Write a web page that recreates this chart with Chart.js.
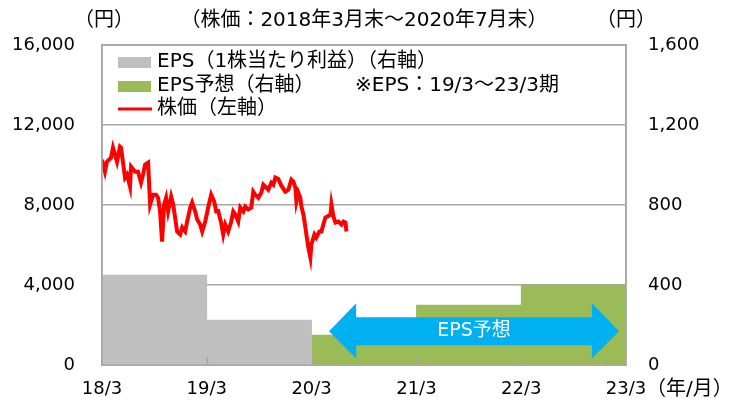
<!DOCTYPE html>
<html lang="ja">
<head>
<meta charset="utf-8">
<title>株価とEPS</title>
<script src="https://cdn.jsdelivr.net/npm/chart.js@4.4.1/dist/chart.umd.min.js"></script>
<style>
  html, body { margin: 0; padding: 0; background: #fff; }
</style>
</head>
<body>
<canvas id="chart" width="729" height="403"></canvas>
<script>
  // x axis is in months counted from 2018/3
  const xTickLabels = ['18/3', '19/3', '20/3', '21/3', '22/3', '23/3'];

  // EPS per fiscal period (right axis), each bar centred in its year
  const epsActualMonths = [6, 18];
  const epsActualValues = [450, 225];
  const epsForecastMonths = [30, 42, 54];
  const epsForecastValues = [150, 300, 400];

  // stock price, 2018/3 - 2020/7 (left axis)
  const priceMonths = [
    0, 0.34, 0.57, 1.03, 1.26, 1.49, 1.72, 2.06, 2.18, 2.41, 2.64, 2.87, 3.21, 3.33, 3.79,
    4.13, 4.47, 4.70, 4.93, 5.28, 5.51, 5.85, 6.19, 6.42, 6.65, 6.88, 7.11, 7.34, 7.57, 7.92,
    8.15, 8.37, 8.60, 8.95, 9.18, 9.52, 9.75, 10.10, 10.32, 10.67, 10.90, 11.24, 11.47, 11.82,
    12.16, 12.50, 12.85, 13.08, 13.31, 13.65, 13.88, 14.11, 14.45, 14.80, 15.03, 15.26, 15.60,
    15.83, 16.18, 16.40, 16.75, 17.09, 17.32, 17.55, 17.90, 18.24, 18.47, 18.70, 19.04, 19.39,
    19.62, 19.85, 20.19, 20.54, 20.99, 21.34, 21.68, 21.91, 22.14, 22.26, 22.48, 22.71, 22.83,
    23.06, 23.29, 23.40, 23.63, 23.86, 23.98, 24.32, 24.55, 24.89, 25.12, 25.58, 25.81, 26.16,
    26.27, 26.50, 26.73, 27.07, 27.42, 27.65, 27.88, 27.99
  ];
  const priceValues = [
    10270, 9670, 10170, 10370, 10870, 10520, 10170, 10920, 10870, 10120, 9370, 9520, 8920, 9920, 9670,
    9670, 9120, 9520, 10020, 10120, 8030, 8520, 8520, 8370, 7680, 6180, 8030, 8370, 7680, 8420,
    8030, 7380, 6680, 6530, 6880, 6680, 7180, 7880, 8130, 7680, 7280, 7030, 6680, 7180,
    7880, 8520, 8180, 7680, 7700, 7100, 6530, 7030, 6680, 7180, 7680, 7530, 7180,
    7880, 7680, 7930, 7780, 7880, 8670, 8520, 8370, 8620, 9020, 8920, 8770, 9120,
    9020, 9370, 9300, 8970, 8670, 8770, 9270, 9170, 8870, 8180, 8620, 8370, 7930,
    7530, 6880, 6530, 5880, 5380, 6030, 6530, 6380, 6680, 6680, 7380, 7430, 7530,
    8030, 7430, 7130, 7180, 7030, 7180, 7130, 6680
  ];

  // forecast arrow, in axis units (months / right-axis yen)
  const arrowFrom = 26.0;
  const arrowTo = 59.2;
  const arrowHead = 3.1;

  const FONT = '"DejaVu Sans", "Noto Sans CJK JP", sans-serif';
  const GRID = '#A6A6A6';
  const TEXT = '#000000';

  function toPoints(xs, ys) {
    return xs.map(function (x, i) { return { x: x, y: ys[i] }; });
  }

  const decor = {
    id: 'decor',
    afterDatasetsDraw: function (chart) {
      const ctx = chart.ctx;
      const a = chart.chartArea;
      const x = chart.scales.x;
      const y1 = chart.scales.y1;
      ctx.save();

      // small inner ticks on the time axis
      ctx.strokeStyle = GRID;
      ctx.lineWidth = 1.5;
      for (let m = 12; m < 60; m += 12) {
        const px = Math.round(x.getPixelForValue(m)) + 0.5;
        ctx.beginPath();
        ctx.moveTo(px, a.bottom);
        ctx.lineTo(px, a.bottom - 8);
        ctx.stroke();
      }

      // blue double arrow over the forecast bars
      const xl = x.getPixelForValue(arrowFrom);
      const xr = x.getPixelForValue(arrowTo);
      const hl = x.getPixelForValue(arrowFrom + arrowHead) - xl;
      const yc = y1.getPixelForValue(170);
      const sT = y1.getPixelForValue(240);
      const sB = y1.getPixelForValue(100);
      const hT = y1.getPixelForValue(310);
      const hB = y1.getPixelForValue(35);
      ctx.fillStyle = '#00B0F0';
      ctx.beginPath();
      ctx.moveTo(xl, yc);
      ctx.lineTo(xl + hl, hT);
      ctx.lineTo(xl + hl, sT);
      ctx.lineTo(xr - hl, sT);
      ctx.lineTo(xr - hl, hT);
      ctx.lineTo(xr, yc);
      ctx.lineTo(xr - hl, hB);
      ctx.lineTo(xr - hl, sB);
      ctx.lineTo(xl + hl, sB);
      ctx.lineTo(xl + hl, hB);
      ctx.closePath();
      ctx.fill();
      ctx.fillStyle = '#FFFFFF';
      ctx.font = '19px ' + FONT;
      ctx.textAlign = 'center';
      ctx.textBaseline = 'middle';
      ctx.fillText('EPS予想', (xl + xr) / 2, yc);
      ctx.restore();
    },
    afterDraw: function (chart) {
      const ctx = chart.ctx;
      const a = chart.chartArea;
      const ds = chart.data.datasets;
      ctx.save();

      // frame round the plot
      ctx.strokeStyle = GRID;
      ctx.lineWidth = 1.5;
      ctx.strokeRect(a.left, a.top, a.right - a.left, a.bottom - a.top);

      ctx.font = '20px ' + FONT;
      ctx.fillStyle = TEXT;
      ctx.textBaseline = 'middle';

      // legend inside the plot
      const lx = a.left + 16;
      const tx = a.left + 55;
      const rows = [a.top + 17, a.top + 41, a.top + 64];
      ctx.fillStyle = ds[1].backgroundColor;
      ctx.fillRect(lx, rows[0] - 5, 33, 11);
      ctx.fillStyle = ds[2].backgroundColor;
      ctx.fillRect(lx, rows[1] - 5, 33, 11);
      ctx.strokeStyle = ds[0].borderColor;
      ctx.lineWidth = 3;
      ctx.beginPath();
      ctx.moveTo(lx, rows[2]);
      ctx.lineTo(lx + 34, rows[2]);
      ctx.stroke();
      ctx.fillStyle = TEXT;
      ctx.textAlign = 'left';
      ctx.fillText(ds[1].label, tx, rows[0]);
      ctx.fillText(ds[2].label, tx, rows[1]);
      ctx.fillText(ds[0].label, tx, rows[2]);
      ctx.fillText('※EPS：19/3～23/3期', a.left + 253, rows[1]);

      // unit labels and period note
      ctx.textAlign = 'center';
      ctx.fillText('（円）', a.left + 2, 21);
      ctx.fillText('（円）', a.right, 21);
      ctx.fillText('（株価：2018年3月末～2020年7月末）', (a.left + a.right) / 2, 21);
      ctx.textAlign = 'left';
      ctx.fillText('（年/月）', a.right + 20, 390);
      ctx.restore();
    }
  };

  const tickFont = { family: FONT, size: 18 };

  new Chart(document.getElementById('chart'), {
    type: 'bar',
    data: {
      datasets: [
        {
          type: 'line',
          label: '株価（左軸）',
          data: toPoints(priceMonths, priceValues),
          yAxisID: 'y',
          borderColor: '#FF0000',
          borderWidth: 4,
          pointRadius: 0,
          tension: 0,
          order: 0
        },
        {
          type: 'bar',
          label: 'EPS（1株当たり利益）（右軸）',
          data: toPoints(epsActualMonths, epsActualValues),
          yAxisID: 'y1',
          backgroundColor: '#BFBFBF',
          barPercentage: 1,
          categoryPercentage: 1,
          order: 1
        },
        {
          type: 'bar',
          label: 'EPS予想（右軸）',
          data: toPoints(epsForecastMonths, epsForecastValues),
          yAxisID: 'y1',
          backgroundColor: '#9BBB59',
          barPercentage: 1,
          categoryPercentage: 1,
          order: 1
        }
      ]
    },
    options: {
      responsive: false,
      animation: false,
      devicePixelRatio: 1,
      layout: { padding: { top: 45, left: 0, right: 0, bottom: 0 } },
      plugins: { legend: { display: false }, tooltip: { enabled: false } },
      scales: {
        x: {
          type: 'linear',
          min: 0,
          max: 60,
          offset: false,
          stacked: true,
          grid: { display: false, drawTicks: false },
          border: { color: GRID, width: 1.5 },
          ticks: {
            stepSize: 12,
            autoSkip: false,
            maxRotation: 0,
            padding: 13,
            color: TEXT,
            font: tickFont,
            callback: function (v) { return xTickLabels[v / 12]; }
          },
          afterFit: function (s) { s.height = 37; }
        },
        y: {
          position: 'left',
          min: 0,
          max: 16000,
          grid: { color: GRID, lineWidth: 1.5, drawTicks: false },
          border: { color: GRID, width: 1.5 },
          ticks: {
            stepSize: 4000,
            padding: 27,
            color: TEXT,
            font: tickFont,
            callback: function (v) { return v.toLocaleString('en-US'); }
          },
          afterFit: function (s) { s.width = 102; }
        },
        y1: {
          position: 'right',
          min: 0,
          max: 1600,
          grid: { display: false, drawTicks: false },
          border: { color: GRID, width: 1.5 },
          ticks: {
            stepSize: 400,
            padding: 22,
            color: TEXT,
            font: tickFont,
            callback: function (v) { return v.toLocaleString('en-US'); }
          },
          afterFit: function (s) { s.width = 103; }
        }
      }
    },
    plugins: [decor]
  });
</script>
</body>
</html>
